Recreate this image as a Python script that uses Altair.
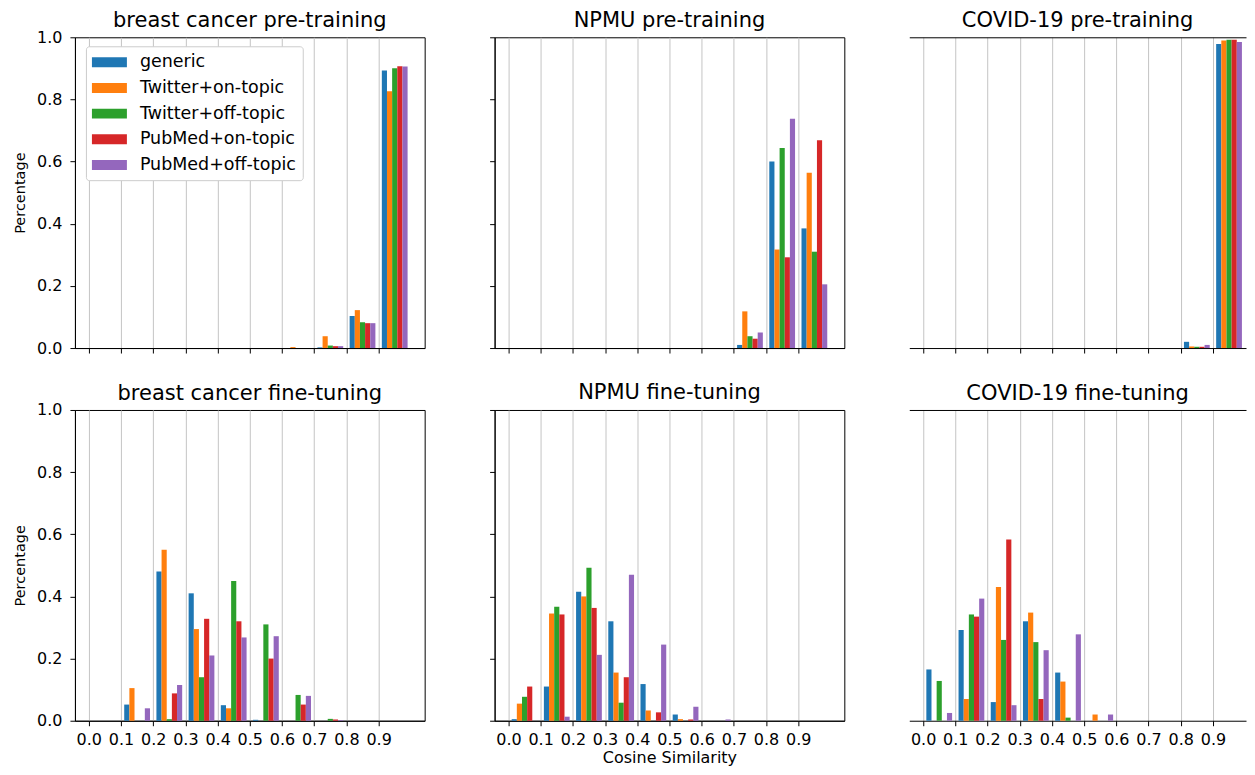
import altair as alt
import pandas as pd

bins = [0.0, 0.1, 0.2, 0.3, 0.4, 0.5, 0.6, 0.7, 0.8, 0.9]
tick_labels = [0.0, 0.1, 0.2, 0.3, 0.4, 0.5, 0.6, 0.7, 0.8, 0.9]
series = ["generic", "Twitter+on-topic", "Twitter+off-topic", "PubMed+on-topic", "PubMed+off-topic"]
colors = ["#1f77b4", "#ff7f0e", "#2ca02c", "#d62728", "#9467bd"]

titles = [
    "breast cancer pre-training", "NPMU pre-training", "COVID-19 pre-training",
    "breast cancer fine-tuning", "NPMU fine-tuning", "COVID-19 fine-tuning",
]

# values per series, one per bin (0.0 ... 0.9)
breast_pre = [
    [0, 0, 0, 0, 0, 0, 0, 0.002, 0.103, 0.893],
    [0, 0, 0, 0, 0, 0, 0.003, 0.038, 0.122, 0.826],
    [0, 0, 0, 0, 0, 0, 0, 0.008, 0.083, 0.900],
    [0, 0, 0, 0, 0, 0, 0, 0.006, 0.080, 0.907],
    [0, 0, 0, 0, 0, 0, 0, 0.006, 0.080, 0.906],
]
npmu_pre = [
    [0, 0, 0, 0, 0, 0, 0, 0.010, 0.600, 0.385],
    [0, 0, 0, 0, 0, 0, 0, 0.118, 0.317, 0.564],
    [0, 0, 0, 0, 0, 0, 0, 0.038, 0.644, 0.310],
    [0, 0, 0, 0, 0, 0, 0, 0.030, 0.292, 0.669],
    [0, 0, 0, 0, 0, 0, 0, 0.050, 0.738, 0.205],
]
covid_pre = [
    [0, 0, 0, 0, 0, 0, 0, 0, 0.020, 0.978],
    [0, 0, 0, 0, 0, 0, 0, 0, 0.005, 0.990],
    [0, 0, 0, 0, 0, 0, 0, 0, 0.004, 0.992],
    [0, 0, 0, 0, 0, 0, 0, 0, 0.004, 0.992],
    [0, 0, 0, 0, 0, 0, 0, 0, 0.010, 0.985],
]
breast_ft = [
    [0, 0.052, 0.480, 0.410, 0.050, 0.003, 0, 0, 0, 0],
    [0, 0.105, 0.550, 0.295, 0.040, 0, 0, 0, 0, 0],
    [0, 0, 0.005, 0.140, 0.450, 0.310, 0.083, 0.006, 0, 0],
    [0, 0, 0.088, 0.328, 0.320, 0.200, 0.052, 0.004, 0, 0],
    [0, 0.040, 0.115, 0.210, 0.268, 0.272, 0.080, 0.002, 0, 0],
]
npmu_ft = [
    [0.005, 0.110, 0.415, 0.320, 0.118, 0.020, 0, 0, 0, 0],
    [0.055, 0.345, 0.400, 0.155, 0.033, 0.005, 0, 0, 0, 0],
    [0.077, 0.367, 0.492, 0.058, 0, 0, 0, 0, 0, 0],
    [0.110, 0.342, 0.363, 0.140, 0.027, 0.004, 0, 0, 0, 0],
    [0, 0.013, 0.212, 0.470, 0.245, 0.045, 0.004, 0, 0, 0],
]
covid_ft = [
    [0.165, 0.292, 0.060, 0.320, 0.155, 0, 0, 0, 0, 0],
    [0, 0.070, 0.430, 0.348, 0.126, 0.020, 0, 0, 0, 0],
    [0.128, 0.342, 0.260, 0.253, 0.010, 0, 0, 0, 0, 0],
    [0, 0.335, 0.583, 0.070, 0, 0, 0, 0, 0, 0],
    [0.025, 0.393, 0.050, 0.227, 0.278, 0.020, 0, 0, 0, 0],
]
panel_values = [breast_pre, npmu_pre, covid_pre, breast_ft, npmu_ft, covid_ft]

rows = []
for t, vals in zip(titles, panel_values):
    for k, (s, vs) in enumerate(zip(series, vals)):
        for b, v in zip(bins, vs):
            rows.append({"panel": t, "series": s, "k": k, "bin": b, "value": v})
df = pd.DataFrame(rows)

FONT = "DejaVu Sans"
W, H = 350, 311
X_LO, X_HI = -0.043, 1.043
W_RIGHT = 337  # right column is cut by the page edge, same x scale
X_HI_RIGHT = X_LO + (X_HI - X_LO) * W_RIGHT / W

color = alt.Color("series:N", scale=alt.Scale(domain=series, range=colors))


def panel(idx):
    title = titles[idx]
    top = idx < 3
    left = idx % 3 == 0
    right = idx % 3 == 2
    w = W_RIGHT if right else W
    hi = X_HI_RIGHT if right else X_HI
    xscale = alt.Scale(domain=[X_LO, hi], nice=False, zero=False)
    xaxis = alt.Axis(
        values=tick_labels, format=".1f", labels=not top,
        title="Cosine Similarity" if idx == 4 else None,
        titleFontSize=16, titleFont=FONT, titleFontWeight="normal", titlePadding=2,
        labelPadding=6,
        grid=True, gridColor="#c4c4c4", gridWidth=1,
    )
    yaxis = alt.Axis(
        values=[0, 0.2, 0.4, 0.6, 0.8, 1.0], format=".1f", labels=left,
        title="Percentage" if left else None, grid=False,
        titleFontSize=14.5, titleFont=FONT, titleFontWeight="normal", titlePadding=9,
        labelPadding=8,
    )
    if idx == 0:
        leg = alt.Legend(
            title=None, orient="none", legendX=11, legendY=9,
            symbolType="M-1,-0.5L2.5,-0.5L2.5,0.5L-1,0.5Z", symbolSize=400,
            symbolStrokeWidth=0, labelFontSize=17.5, labelFont=FONT,
            labelColor="black", labelOffset=28, rowPadding=6.7, padding=6,
            strokeColor="#cccccc", fillColor="white", cornerRadius=3,
        )
        c = color.legend(leg)
    else:
        c = color.legend(None)
    base = (
        alt.Chart(df)
        .transform_filter(alt.datum.panel == title)
        .transform_calculate(
            x0="datum.bin + 0.01 + 0.016 * datum.k",
            x1="datum.bin + 0.026 + 0.016 * datum.k",
        )
    )
    bars = base.mark_rect().encode(
        x=alt.X("x0:Q", scale=xscale, axis=xaxis),
        x2="x1:Q",
        y=alt.Y("value:Q", scale=alt.Scale(domain=[0, 1]), axis=yaxis),
        y2=alt.datum(0),
        color=c,
    )
    ttl = alt.TitleParams(title, fontSize=21, font=FONT, fontWeight="normal",
                          color="black", offset=-2 if left else 6)
    if right:
        topaxis = base.mark_rect(opacity=0).encode(
            x=alt.X("x0:Q", scale=xscale,
                    axis=alt.Axis(orient="top", labels=False, ticks=False, grid=False, title=None, domain=True)),
            x2="x1:Q",
            y=alt.Y("value:Q", scale=alt.Scale(domain=[0, 1]), axis=None),
            y2=alt.datum(0),
        )
        return alt.layer(bars, topaxis).resolve_axis(x="independent").properties(
            width=w, height=H, title=ttl,
            view=alt.ViewBackground(stroke="transparent"),
        )
    return bars.properties(width=w, height=H, title=ttl)


row1 = alt.hconcat(panel(0), panel(1), panel(2), spacing=63).resolve_legend(color="independent")
row2 = alt.hconcat(panel(3), panel(4), panel(5), spacing=63).resolve_legend(color="independent")
chart = (
    alt.vconcat(row1, row2, spacing=25)
    .resolve_legend(color="independent")
    .properties(padding={"left": 4, "top": 1, "right": 0, "bottom": 0})
    .configure(font=FONT)
    .configure_view(stroke="black", strokeWidth=1)
    .configure_axis(
        labelFont=FONT, titleFont=FONT, labelFontSize=16,
        labelColor="black", titleColor="black",
        domainColor="black", tickColor="black", tickSize=5,
    )
)

chart.save("out.html", embed_options={"renderer": "svg", "actions": False})
